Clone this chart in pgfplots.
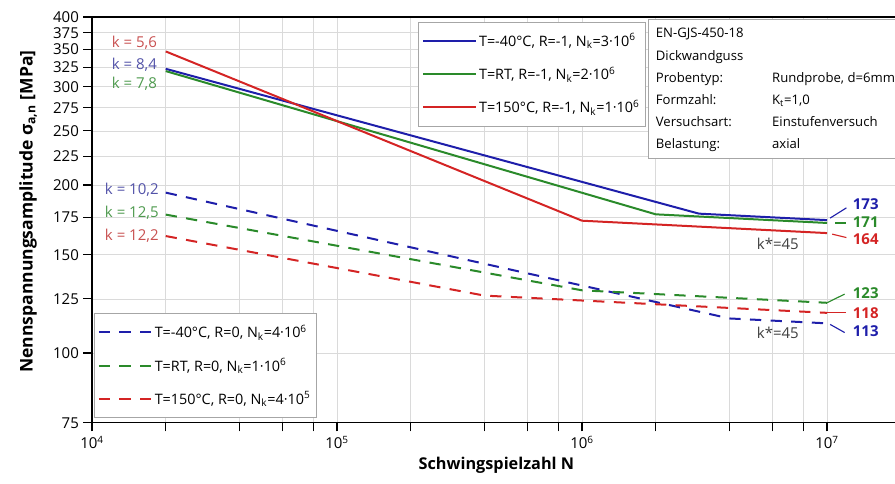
\documentclass[border=0pt]{standalone}
\usepackage{fontspec}
\setmainfont{Open Sans}
\usepackage{pgfplots}
\pgfplotsset{compat=1.18}

\definecolor{cblue}{HTML}{1E1EAA}
\definecolor{cgreen}{HTML}{2A8A2A}
\definecolor{cred}{HTML}{D42424}
\definecolor{kblue}{HTML}{5252A8}
\definecolor{kgreen}{HTML}{4E9A4E}
\definecolor{kred}{HTML}{C85050}
\definecolor{gridgray}{HTML}{DADADA}

\tikzset{dashedline/.style={line width=1.6pt, dash pattern=on 9pt off 7.5pt}}

\begin{document}
\begin{tikzpicture}
\path[use as bounding box] (-73.6pt,-49pt) rectangle (642.4pt,338.2pt);
\begin{axis}[
  scale only axis, width=647pt, height=324.6pt,
  xmode=log, ymode=log,
  xmin=1e4, xmax=2e7, ymin=75, ymax=400,
  clip=false,
  legend cell align=left,
  legend style={draw=gray!70, fill=white, line width=0.6pt,
    font=\fontsize{11.5}{13}\selectfont, row sep=11pt,
    inner xsep=3pt, inner ysep=7pt,
    at={(0.403,0.988)}, anchor=north west},
  legend image code/.code={\draw[#1, line width=1.6pt] (0pt,0pt) -- (42pt,0pt);},
  xtick={1e4,1e5,1e6,1e7},
  xticklabels={10\textsuperscript{4},10\textsuperscript{5},10\textsuperscript{6},10\textsuperscript{7}},
  minor xtick={2e4,4e4,6e4,8e4,2e5,4e5,6e5,8e5,2e6,4e6,6e6,8e6},
  ytick={75,100,125,150,175,200,225,250,275,300,325,350,375,400},
  yticklabels={75,100,125,150,175,200,225,250,275,300,325,350,375,400},
  xtick pos=bottom, ytick pos=left,
  tick align=outside,
  major tick length=7pt, minor tick length=7pt,
  tick style={black, line width=0.9pt},
  axis line style={line width=1.2pt},
  grid=both,
  major grid style={gridgray, line width=0.6pt},
  minor grid style={gridgray, line width=0.6pt},
  ticklabel style={font=\fontsize{12}{14}\selectfont},
  ylabel={\textbf{Nennspannungsamplitude σ\textsubscript{a,n} [MPa]}},
  ylabel style={at={(axis description cs:-0.079,0.52)}, anchor=center, font=\fontsize{14}{16}\selectfont},
  xlabel={\textbf{Schwingspielzahl N}},
  xlabel style={at={(axis description cs:0.5,-0.105)}, anchor=center, font=\fontsize{13}{15}\selectfont},
]
% R=-1 (solid)
\addplot[cblue, line width=1.6pt, no marks] coordinates {(2e4,323) (3e6,177.7) (1e7,173)};
\addlegendentry{T=-40°C, R=-1, N\textsubscript{k}=3·10\textsuperscript{6}}
\addplot[cgreen, line width=1.6pt, no marks] coordinates {(2e4,320) (2e6,177.2) (1e7,171)};
\addlegendentry{T=RT, R=-1, N\textsubscript{k}=2·10\textsuperscript{6}}
\addplot[cred, line width=1.6pt, no marks] coordinates {(2e4,347) (1e6,172.6) (1e7,164)};
\addlegendentry{T=150°C, R=-1, N\textsubscript{k}=1·10\textsuperscript{6}}
% R=0 (dashed)
\addplot[cblue, dashedline, no marks, forget plot] coordinates {(2e4,193.8) (4e6,115.3) (1e7,113)};
\addplot[cgreen, dashedline, no marks, forget plot] coordinates {(2e4,177) (1e6,129.5) (1e7,123)};
\addplot[cred, dashedline, no marks, forget plot] coordinates {(2e4,162) (4e5,126.7) (1e7,118)};

% slope labels
\begin{scope}[font=\fontsize{12}{14}\selectfont]
\node[anchor=east, text=kred]   at (axis cs:1.92e4,359) {k = 5,6};
\node[anchor=east, text=kblue]  at (axis cs:1.92e4,328) {k = 8,4};
\node[anchor=east, text=kgreen] at (axis cs:1.92e4,303.5) {k = 7,8};
\node[anchor=east, text=kblue]  at (axis cs:1.95e4,196) {k = 10,2};
\node[anchor=east, text=kgreen] at (axis cs:1.95e4,178) {k = 12,5};
\node[anchor=east, text=kred]   at (axis cs:1.95e4,162) {k = 12,2};
\node[text=black!75] at (axis cs:6.3e6,156.8) {k*=45};
\node[text=black!75] at (axis cs:6.3e6,108.6) {k*=45};
\end{scope}

% end values
\begin{scope}[font=\bfseries\fontsize{12}{14}\selectfont, line width=0.9pt]
\draw[cblue] (axis cs:1.03e7,174.5) -- (axis cs:1.2e7,182);
\node[anchor=west, text=cblue] at (axis cs:1.22e7,185) {173};
\draw[cgreen] (axis cs:1.08e7,171) -- (axis cs:1.2e7,171);
\node[anchor=west, text=cgreen] at (axis cs:1.22e7,171.5) {171};
\draw[cred] (axis cs:1.05e7,163.3) -- (axis cs:1.2e7,161);
\node[anchor=west, text=cred] at (axis cs:1.22e7,160) {164};
\draw[cgreen] (axis cs:1.0e7,123) -- (axis cs:1.18e7,127.5);
\node[anchor=west, text=cgreen] at (axis cs:1.22e7,128) {123};
\draw[cred] (axis cs:1.0e7,118) -- (axis cs:1.2e7,118);
\node[anchor=west, text=cred] at (axis cs:1.22e7,118) {118};
\draw[cblue] (axis cs:1.03e7,112.5) -- (axis cs:1.18e7,108.8);
\node[anchor=west, text=cblue] at (axis cs:1.22e7,109.5) {113};
\end{scope}

% info box
\node[draw=gray!70, fill=white, line width=0.6pt, anchor=north west, inner xsep=6pt, inner ysep=2pt,
  font=\fontsize{10.5}{12}\selectfont] at (axis cs:1.86e6,396) {%
  \def\arraystretch{1.48}%
  \begin{tabular}{@{}p{93pt}@{}p{130pt}@{}}
  EN-GJS-450-18 & \\
  Dickwandguss & \\
  Probentyp: & Rundprobe, d=6mm \\
  Formzahl: & K\textsubscript{t}=1,0 \\
  Versuchsart: & Einstufenversuch \\
  Belastung: & axial
  \end{tabular}};
\end{axis}

% second legend (R=0)
\begin{axis}[
  scale only axis, width=647pt, height=324.6pt,
  xmode=log, ymode=log,
  xmin=1e4, xmax=2e7, ymin=75, ymax=400,
  hide axis,
  legend cell align=left,
  legend style={draw=gray!70, fill=white, line width=0.6pt,
    font=\fontsize{11.5}{13}\selectfont, row sep=11pt,
    inner xsep=3pt, inner ysep=7pt,
    at={(0.002,0.012)}, anchor=south west},
  legend image code/.code={\draw[#1] (0pt,0pt) -- (42pt,0pt);},
]
\addlegendimage{cblue, dashedline}
\addlegendentry{T=-40°C, R=0, N\textsubscript{k}=4·10\textsuperscript{6}}
\addlegendimage{cgreen, dashedline}
\addlegendentry{T=RT, R=0, N\textsubscript{k}=1·10\textsuperscript{6}}
\addlegendimage{cred, dashedline}
\addlegendentry{T=150°C, R=0, N\textsubscript{k}=4·10\textsuperscript{5}}
\end{axis}
\end{tikzpicture}
\end{document}
